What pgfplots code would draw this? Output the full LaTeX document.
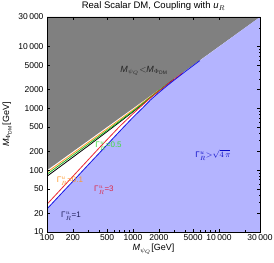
\documentclass[border=0pt]{standalone}
\usepackage{fontspec}
\setmainfont{Liberation Sans}
\usepackage{pgfplots}
\pgfplotsset{compat=1.18}
\definecolor{greyreg}{RGB}{128,128,128}
\definecolor{bluereg}{RGB}{180,180,255}
\definecolor{orangeL}{RGB}{255,150,40}
\definecolor{greenL}{RGB}{30,180,30}
\definecolor{greenT}{RGB}{60,220,60}
\definecolor{redL}{RGB}{235,40,50}
\definecolor{redT}{RGB}{220,40,70}
\definecolor{blueL}{RGB}{20,20,230}
\definecolor{blueT}{RGB}{10,10,200}
\definecolor{navyT}{RGB}{30,30,90}
\begin{document}
\begin{tikzpicture}
\begin{axis}[
  scale only axis, width=213pt, height=215pt,
  xmode=log, ymode=log,
  xmin=100, xmax=30000, ymin=10, ymax=30000,
  axis on top,
  xtick={100,200,500,1000,2000,5000,10000,30000},
  xticklabels={100,200,500,1000,2000,5000,10\,000,30\,000},
  ytick={10,20,50,100,200,500,1000,2000,5000,10000,30000},
  yticklabels={10,20,50,100,200,500,1000,2000,5000,10\,000,30\,000},
  minor xtick={300,400,600,700,800,900,3000,4000,6000,7000,8000,9000,20000},
  minor ytick={30,40,60,70,80,90,300,400,600,700,800,900,3000,4000,6000,7000,8000,9000,20000},
  tick align=inside,
  major tick length=3pt, minor tick length=1.5pt,
  tick style={black, line width=0.5pt},
  axis line style={line width=0.6pt},
  tick label style={font=\fontsize{8.5}{10}\selectfont},
  xticklabel style={yshift=1pt},
  label style={font=\fontsize{9}{10}\selectfont},
  xlabel style={yshift=3pt},
  title style={font=\fontsize{9.5}{11}\selectfont, yshift=-3.5pt},
  title={Real Scalar DM, Coupling with \textit{u}$_{R}$},
  xlabel={\textit{M}$_{\psi_Q}$[GeV]},
  ylabel={\textit{M}$_{\Phi_{\mathrm{DM}}}$[GeV]},
]
\coordinate (sw) at (rel axis cs:0,0);
\coordinate (ne) at (rel axis cs:1,1);
% grey region: M_DM > M_psi
\addplot[fill=greyreg, draw=none] coordinates {(100,100) (30000,30000) (100,30000)} -- cycle;
% blue region: Gamma > sqrt(4 pi)
\addplot[fill=bluereg, draw=none] coordinates {
(100,10) (100,23.6) (150,43.2) (200,66) (300,121) (400,185) (500,258) (700,425)
(1000,715) (1300,1020) (1600,1370) (2000,1800) (2500,2330) (3000,2850)
(4000,3880) (5000,4900) (6000,5920) (30000,30000) (30000,10)} -- cycle;
% Gamma = 1 (black)
\addplot[black, line width=0.8pt] coordinates {
(100,79.6) (200,162) (300,246) (500,420) (700,600) (1000,880) (1300,1180)
(1600,1500) (2000,1920) (2500,2440) (3000,2950)};
% Gamma = 0.1 (orange)
\addplot[orangeL, line width=0.8pt] coordinates {
(100,92.5) (200,186) (300,279) (500,466) (700,655) (1000,940) (1300,1240)
(1600,1550) (2000,1960)};
% Gamma = 0.5 (green)
\addplot[greenL, line width=0.8pt] coordinates {
(100,85.9) (200,174) (300,262) (500,440) (700,622) (1000,900) (1300,1200)
(1600,1520) (2000,1940) (2500,2460)};
% Gamma = 3 (red)
\addplot[redL, line width=0.8pt] coordinates {
(100,28.1) (150,51.6) (200,79.5) (300,146) (400,225) (500,312) (700,510)
(1000,820) (1300,1140) (1600,1480) (2000,1900) (2500,2430) (3000,2940) (3800,3760)};
% Gamma = sqrt(4 pi) boundary (blue)
\addplot[blueL, line width=0.8pt] coordinates {
(100,23.6) (150,43.2) (200,66) (300,121) (400,185) (500,258) (700,425)
(1000,715) (1300,1020) (1600,1370) (2000,1800) (2500,2330) (3000,2850)
(4000,3880) (5000,4900) (6000,5920)};
\node[font=\fontsize{9}{10}\selectfont, text=black!85] at (axis cs:1350,4030)
  {\textit{M}$_{\psi_Q}$$<$\textit{M}$_{\Phi_{\mathrm{DM}}}$};
\node[font=\fontsize{8}{10}\selectfont, text=greenT] at (axis cs:520,247) {Γ$^{u}_{R}$=0.5};
\node[font=\fontsize{8}{10}\selectfont, text=orangeL] at (axis cs:185,66.8) {Γ$^{u}_{R}$=0.1};
\node[font=\fontsize{8}{10}\selectfont, text=redT] at (axis cs:459,47.8) {Γ$^{u}_{R}$=3};
\node[font=\fontsize{8}{10}\selectfont, text=navyT] at (axis cs:190,18.2) {Γ$^{u}_{R}$=1};
\node[font=\fontsize{8}{10}\selectfont, text=blueT] at (axis cs:8520,176) {Γ$^{u}_{R}$$>$$\sqrt{4\,\pi}$};
\end{axis}
\pgfresetboundingbox
\path ([shift={(-47pt,-31pt)}]sw) rectangle ([shift={(14pt,17pt)}]ne);
\end{tikzpicture}
\end{document}
